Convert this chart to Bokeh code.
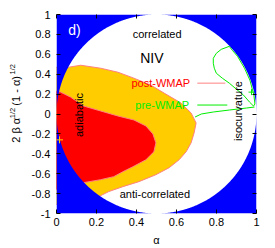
import numpy as np
from bokeh.plotting import figure
from bokeh.models import Range1d, FixedTicker, LinearAxis
from bokeh.core.properties import value
from bokeh.embed import file_html
from bokeh.resources import INLINE

# ---------------- data ----------------
x_ticks = [0, 0.2, 0.4, 0.6, 0.8, 1]
x_tick_labels = ["0", "0.2", "0.4", "0.6", "0.8", "1"]
y_ticks = [-1, -0.8, -0.6, -0.4, -0.2, 0, 0.2, 0.4, 0.6, 0.8, 1]
y_tick_labels = ["-1", "-0.8", "-0.6", "-0.4", "-0.2", "0", "0.2", "0.4", "0.6", "0.8", "1"]

# post-WMAP 2-sigma region (yellow)
post2_alpha = [-0.055, 0.060, 0.121, 0.221, 0.307, 0.387, 0.472, 0.538, 0.623, 0.673,
               0.698, 0.688, 0.673, 0.648, 0.613, 0.563, 0.497, 0.412, 0.332, 0.261,
               0.211, 0.171, -0.055]
post2_y = [0.47, 0.47, 0.49, 0.46, 0.42, 0.36, 0.29, 0.21, 0.11, 0.01,
           -0.09, -0.19, -0.29, -0.38, -0.46, -0.54, -0.61, -0.68, -0.73, -0.78,
           -0.83, -0.91, -0.91]

# post-WMAP 1-sigma region (red)
post1_alpha = [-0.055, 0.020, 0.070, 0.136, 0.221, 0.307, 0.387, 0.447, 0.482, 0.497,
               0.487, 0.447, 0.382, 0.332, 0.286, 0.221, 0.136, 0.070, -0.055]
post1_y = [0.26, 0.22, 0.17, 0.08, 0.03, -0.02, -0.06, -0.12, -0.20, -0.29,
           -0.38, -0.46, -0.53, -0.58, -0.63, -0.66, -0.69, -0.76, -0.76]

# pre-WMAP contours (green)
pre_outer_alpha = [0.693, 0.724, 0.784, 0.864, 0.950, 0.990]
pre_outer_y = [-0.03, 0.00, 0.02, 0.04, 0.06, 0.07]
pre_loop_alpha = [0.864, 0.824, 0.799, 0.784, 0.784, 0.789, 0.799, 0.829, 0.864, 0.899,
                  0.935, 0.965, 0.985, 0.992, 0.987, 0.967, 0.940, 0.905, 0.879, 0.864]
pre_loop_y = [0.68, 0.65, 0.61, 0.56, 0.51, 0.46, 0.41, 0.36, 0.31, 0.25,
              0.19, 0.12, 0.08, 0.10, 0.19, 0.34, 0.46, 0.58, 0.64, 0.68]

# best-fit points
post_best = (0.015, -0.26)
pre_best = (0.975, 0.22)

# ---------------- figure ----------------
FONT = "Liberation Sans"
BLUE = "#0000ff"
YELLOW = "#ffcc00"
RED = "#ff0000"
PINK = "#ff8080"
GREEN = "#00ee00"
NB = "\u00a0"

p = figure(width=275, height=248, output_backend="svg", toolbar_location=None,
           x_range=Range1d(0, 1), y_range=Range1d(-1, 1),
           min_border_left=56, min_border_right=19, min_border_top=14, min_border_bottom=34)
p.outline_line_color = None
p.grid.visible = False
p.background_fill_color = "white"

# filled regions
p.patch(post2_alpha, post2_y, fill_color=YELLOW, line_color=PINK, line_width=1)
p.patch(post1_alpha, post1_y, fill_color=RED, line_color=PINK, line_width=1)

# forbidden region |beta| > 1 (blue)
ea = np.linspace(0, 1, 401)
edge = 2 * np.sqrt(ea * (1 - ea))
p.varea(x=ea, y1=edge, y2=1, fill_color=BLUE)
p.varea(x=ea, y1=-1, y2=-edge, fill_color=BLUE)

# pre-WMAP contours
p.line(pre_outer_alpha, pre_outer_y, line_color=GREEN, line_width=1)
p.line(pre_loop_alpha, pre_loop_y, line_color=GREEN, line_width=1)

p.scatter([post_best[0]], [post_best[1]], marker="cross", size=7, line_color=YELLOW, line_width=1)
p.scatter([pre_best[0]], [pre_best[1]], marker="cross", size=6, line_color=GREEN, line_width=1)

# legend
p.line([0.704, 0.844], [0.31, 0.31], line_color=PINK, line_width=1)
p.line([0.704, 0.854], [0.09, 0.09], line_color=GREEN, line_width=1)
p.text([0.668], [0.31], text=["post-WMAP"], text_align="right", text_baseline="middle",
       text_font=value(FONT), text_font_size="11px", text_color=RED)
p.text([0.663], [0.09], text=["pre-WMAP"], text_align="right", text_baseline="middle",
       text_font=value(FONT), text_font_size="11px", text_color=GREEN)

# annotations
def txt(x, y, s, size="11px", color="black", angle=0):
    p.text([x], [y], text=[s], text_align="center", text_baseline="middle", angle=angle,
           text_font=value(FONT), text_font_size=size, text_color=color)

txt(0.090, 0.84, "d)", size="14px", color="white")
txt(0.503, 0.80, "correlated")
txt(0.477, 0.56, "NIV", size="14px")
txt(0.492, -0.80, "anti-correlated")
txt(0.111, -0.01, "adiabatic", angle=np.pi / 2)
txt(0.905, 0.03, "isocurvature", angle=np.pi / 2)

# axes
for ax in (p.xaxis[0], p.yaxis[0]):
    ax.axis_line_color = None
    ax.major_tick_in = 4
    ax.major_tick_out = 0
    ax.minor_tick_line_color = None
    ax.major_label_text_font = FONT
    ax.major_label_text_font_size = "11px"
    ax.major_label_text_color = "black"
    ax.axis_label_text_font = FONT
    ax.axis_label_text_font_style = "normal"
    ax.axis_label_text_font_size = "11px"
    ax.axis_label_text_color = "black"

p.xaxis.ticker = FixedTicker(ticks=x_ticks)
p.xaxis.major_label_overrides = dict(zip(x_ticks, x_tick_labels))
p.xaxis.major_label_standoff = 4
p.xaxis.axis_label = "α"
p.xaxis.axis_label_standoff = 5

p.yaxis.ticker = FixedTicker(ticks=y_ticks)
p.yaxis.major_label_overrides = dict(zip(y_ticks, y_tick_labels))
p.yaxis.major_label_standoff = 6
# main part of the y label: 2 β α^{1/2} (1 - α)^{1/2}
p.yaxis.axis_label = NB * 3 + "2 β α" + NB * 4 + "(1 - α)"
p.yaxis.axis_label_standoff = 7

# superscripts of the y label, on an extra left axis without ticks
sup_axis = LinearAxis(ticker=FixedTicker(ticks=[]), axis_line_color=None,
                      major_tick_in=0, major_tick_out=0, minor_tick_line_color=None,
                      major_label_text_font_size="0px", major_label_standoff=0,
                      axis_label=NB * 22 + "1/2" + NB * 16 + "1/2",
                      axis_label_standoff=-10, axis_label_text_font=FONT,
                      axis_label_text_font_style="normal", axis_label_text_font_size="7.5px",
                      axis_label_text_color="black")
p.add_layout(sup_axis, "left")

for loc, ticks in (("above", x_ticks), ("right", y_ticks)):
    ax = LinearAxis(ticker=FixedTicker(ticks=ticks), axis_line_color=None,
                    major_tick_in=4, major_tick_out=0, minor_tick_line_color=None,
                    major_label_text_font_size="0px", major_label_standoff=0)
    p.add_layout(ax, loc)

open("out.html", "w").write(file_html(p, INLINE))
